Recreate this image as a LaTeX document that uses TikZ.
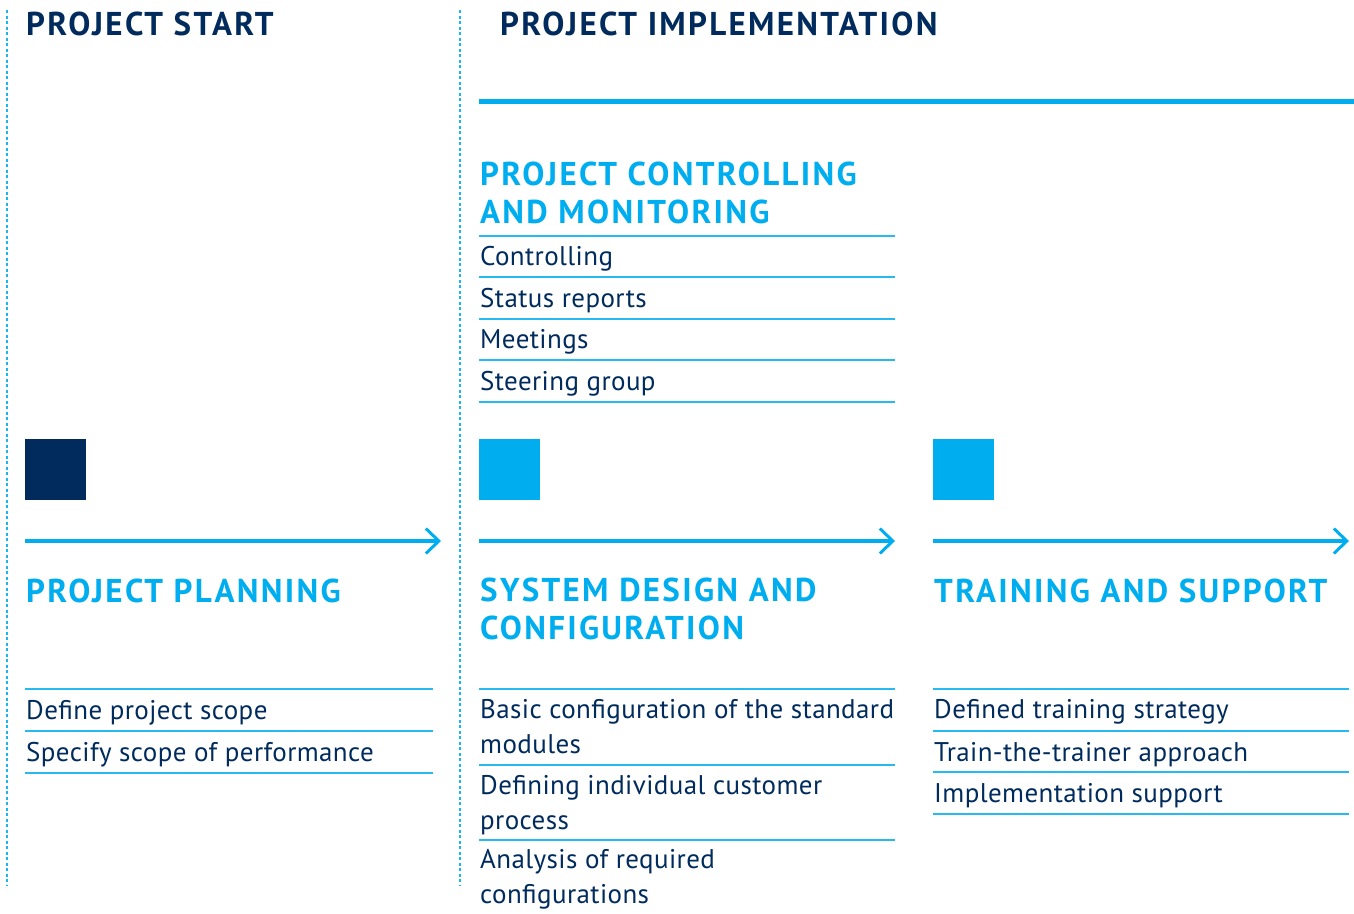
\documentclass[tikz,border=0pt]{standalone}
\usepackage{fontspec}
\setmainfont{PT Sans}
\usetikzlibrary{arrows.meta}
\definecolor{navy}{HTML}{002B5C}
\definecolor{sky}{HTML}{00AEEF}
\begin{document}
\begin{tikzpicture}[x=1pt,y=-1pt,
  headnavy/.style={anchor=base west,inner sep=0pt,text=navy,font=\fontsize{33}{38}\selectfont\bfseries\addfontfeatures{LetterSpace=7}},
  headsky/.style={anchor=base west,inner sep=0pt,text=sky,align=left,font=\fontsize{33}{37.5}\selectfont\bfseries\addfontfeatures{LetterSpace=7}},
  item/.style={anchor=base west,inner sep=0pt,text=navy,align=left,font=\fontsize{27}{34.5}\selectfont\addfontfeatures{LetterSpace=1.5}},
  rule/.style={draw=sky!85,line width=1.5pt},
  divider/.style={draw=sky!90,line width=1.4pt,dash pattern=on 3pt off 2.5pt},
  flow/.style={draw=sky,line width=3.2pt,-{Straight Barb[length=13pt,width=25pt,line width=3pt]}},
  block/.style={minimum size=61pt,inner sep=0pt,anchor=north west},
]
\useasboundingbox (0,0) rectangle (1354,913);
% dashed dividers
\coordinate (d1t) at (7,10); \coordinate (d1b) at (7,885);
\coordinate (d2t) at (460,10); \coordinate (d2b) at (460,885);
\draw[divider] (d1t) -- (d1b);
\draw[divider] (d2t) -- (d2b);
% top titles
\node[headnavy] (tstart) at (26,35) {PROJECT START};
\node[headnavy] (timpl) at (500,35) {PROJECT IMPLEMENTATION};
\coordinate (ta) at (479,101.5); \coordinate (tb) at (1354,101.5);
\draw[draw=sky,line width=4.5pt] (ta) -- (tb);
% controlling (base anchor = last line)
\node[headsky] (ctrl) at (480,223) {PROJECT CONTROLLING\\AND MONITORING};
\foreach \y [count=\i] in {236,277,319,360,402}{
  \coordinate (cl\i a) at (479,\y); \coordinate (cl\i b) at (895,\y);
  \draw[rule] (cl\i a) -- (cl\i b);}
\node[item] (c1) at (480,265) {Controlling};
\node[item] (c2) at (480,307) {Status reports};
\node[item] (c3) at (480,348) {Meetings};
\node[item] (c4) at (480,390) {Steering group};
% squares
\node[block,fill=navy] (s1) at (25,439) {};
\node[block,fill=sky] (s2) at (479,439) {};
\node[block,fill=sky] (s3) at (933,439) {};
% arrows
\coordinate (a1a) at (25,541); \coordinate (a1b) at (441,541);
\coordinate (a2a) at (479,541); \coordinate (a2b) at (895,541);
\coordinate (a3a) at (933,541); \coordinate (a3b) at (1349,541);
\draw[flow] (a1a) -- (a1b);
\draw[flow] (a2a) -- (a2b);
\draw[flow] (a3a) -- (a3b);
% phase headings
\node[headsky] (h1) at (26,602) {PROJECT PLANNING};
\node[headsky] (h2) at (480,639) {SYSTEM DESIGN AND\\CONFIGURATION};
\node[headsky] (h3) at (934,602) {TRAINING AND SUPPORT};
% left list
\foreach \y [count=\i] in {689,731,773}{
  \coordinate (l\i a) at (25,\y); \coordinate (l\i b) at (433,\y);
  \draw[rule] (l\i a) -- (l\i b);}
\node[item] (p1) at (26,719) {Define project scope};
\node[item] (p2) at (26,761) {Specify scope of performance};
% middle list
\foreach \y [count=\i] in {689,765,840}{
  \coordinate (m\i a) at (479,\y); \coordinate (m\i b) at (895,\y);
  \draw[rule] (m\i a) -- (m\i b);}
\node[item] (q1) at (480,753) {Basic configuration of the standard\\modules};
\node[item] (q2) at (480,829) {Defining individual customer\\process};
\node[item] (q3) at (480,903) {Analysis of required\\configurations};
% right list
\foreach \y [count=\i] in {689,731,772,814}{
  \coordinate (r\i a) at (933,\y); \coordinate (r\i b) at (1349,\y);
  \draw[rule] (r\i a) -- (r\i b);}
\node[item] (t1) at (934,718) {Defined training strategy};
\node[item] (t2) at (934,761) {Train-the-trainer approach};
\node[item] (t3) at (934,802) {Implementation support};
\end{tikzpicture}
\end{document}
